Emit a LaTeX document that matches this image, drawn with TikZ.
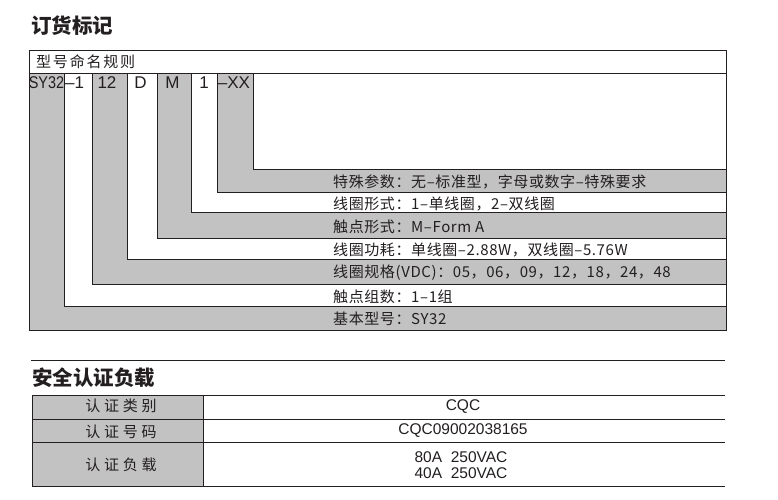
\documentclass[tikz,border=0pt]{standalone}
\usepackage{fontspec}
\setmainfont{Liberation Sans}
\newfontfamily\cjk{Noto Sans CJK SC}
\newfontfamily\cjkband[LetterSpace=4]{Noto Sans CJK SC}
\newfontfamily\cjkwide[LetterSpace=25]{Noto Sans CJK SC}
\newfontfamily\cjkrule[LetterSpace=12]{Noto Sans CJK SC}
\usetikzlibrary{positioning}
\definecolor{bandgray}{RGB}{194,194,194}
\definecolor{inkblack}{RGB}{35,31,32}

\begin{document}
\begin{tikzpicture}[
  x=1pt, y=-1pt,
  frame/.style={draw=inkblack, line width=0.9pt},
  headtext/.style={anchor=west, inner sep=0pt, text=inkblack, font={\cjk\bfseries\fontsize{20.5}{22}\selectfont}},
  codetext/.style={inner sep=0pt, text=inkblack, font={\fontsize{17}{19}\selectfont}},
  bandtext/.style={anchor=west, inner sep=0pt, text=inkblack, font={\cjkband\fontsize{15}{17}\selectfont}},
  celltext/.style={inner sep=0pt, text=inkblack, align=center, font={\fontsize{15.5}{16.5}\selectfont}},
  cellcjk/.style={inner sep=0pt, text=inkblack, font={\cjkwide\fontsize{15}{17}\selectfont}}
]
\useasboundingbox (0,0) rectangle (778,499);

% order code
\node[headtext] (orderhead) at (31,26) {订货标记};
\draw[frame] (29,50) rectangle (726,73);
\node[anchor=west, inner sep=0pt, text=inkblack, font={\cjkrule\fontsize{15}{17}\selectfont}] (rulehead) at (36,62) {型号命名规则};

% nested columns, outermost first
\foreach \xl/\yb/\fc in {29/330/bandgray, 64/306/white, 92/284/bandgray, 127/259/white,
                         157/238/bandgray, 191/212/white, 217/192/bandgray, 253/169/white}
  \draw[frame, fill=\fc] (\xl,73) rectangle (726,\yb);

\node[codetext, xscale=0.85] (cbase) at (46.5,83) {SY32};
\node[codetext, anchor=west] (cset) at (65,83) {–1};
\node[codetext] (cvolt) at (107,83) {12};
\node[codetext] (cpower) at (140.5,83) {D};
\node[codetext] (ccontact) at (172.5,83) {M};
\node[codetext] (ccoil) at (204,83) {1};
\node[codetext] (cspecial) at (234,83) {–XX};

\node[bandtext] (tspecial) at (333,181.5) {特殊参数：无–标准型，字母或数字–特殊要求};
\node[bandtext] (tcoil) at (333,204) {线圈形式：1–单线圈，2–双线圈};
\node[bandtext] (tcontact) at (333,226.5) {触点形式：M–Form A};
\node[bandtext] (tpower) at (333,250) {线圈功耗：单线圈–2.88W，双线圈–5.76W};
\node[bandtext] (tvolt) at (333,273) {线圈规格(VDC)：05，06，09，12，18，24，48};
\node[bandtext] (tset) at (333,296.5) {触点组数：1–1组};
\node[bandtext] (tbase) at (333,319) {基本型号：SY32};

% safety approval
\draw[frame] (31,360) -- (725,360);
\node[headtext] (safehead) at (32,377.5) {安全认证负载};
\draw[frame, fill=bandgray] (32,395) rectangle (203,486);
\draw[frame] (203,395) -- (725,395);
\draw[frame] (32,419) -- (725,419);
\draw[frame] (32,442) -- (725,442);
\draw[frame] (203,486) -- (725,486);

\node[cellcjk] (ltype) at (121,406) {认证类别};
\node[cellcjk] (lnum) at (121,432) {认证号码};
\node[cellcjk] (lload) at (121,465) {认证负载};
\node[celltext] (vtype) at (463,407) {CQC};
\node[celltext] (vnum) at (463,431) {CQC09002038165};
\node[celltext] (vload) at (461,465) {80A\ \ 250VAC\\40A\ \ 250VAC};
\end{tikzpicture}
\end{document}
